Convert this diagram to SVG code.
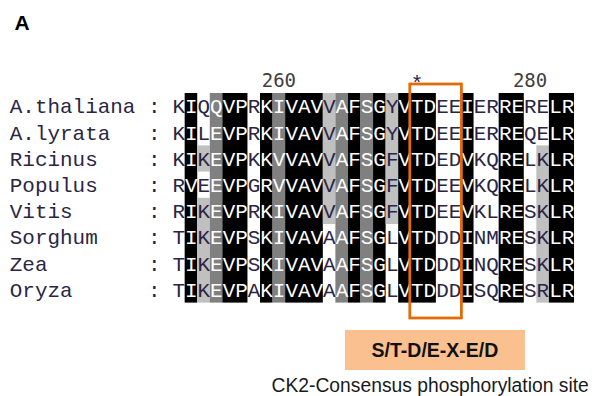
<svg xmlns="http://www.w3.org/2000/svg" width="595" height="396" viewBox="0 0 595 396">
<style>
.mono{font-family:"Liberation Mono","DejaVu Sans Mono",monospace;font-size:20.93px;fill:#2b2545}
.w{fill:#ffffff}
.bk{fill:#000000}
.dg{fill:#808080}
.lg{fill:#c0c0c0}
.num{font-family:"DejaVu Sans Mono","Liberation Mono",monospace;font-size:19px;fill:#404040;text-anchor:middle}
.sans{font-family:"Liberation Sans",Arial,sans-serif}
</style>
<rect width="595" height="396" fill="#ffffff"/>
<g id="panel-label"><text class="sans" x="14.5" y="30" font-size="21" font-weight="bold" fill="#000">A</text></g>
<g id="ruler">
<text class="num" x="278.9" y="87">260</text>
<text class="num" x="530.1" y="87">280</text>
<text class="mono" x="417" y="90" text-anchor="middle" fill="#333">*</text>
</g>
<g id="shading">
<rect class="bk" x="184.66" y="93" width="12.56" height="209.6"/>
<rect class="lg" x="197.22" y="145.4" width="12.56" height="26.2"/>
<rect class="lg" x="197.22" y="197.8" width="12.56" height="104.8"/>
<rect class="dg" x="209.78" y="93" width="12.56" height="209.6"/>
<rect class="bk" x="222.34" y="93" width="25.12" height="209.6"/>
<rect class="bk" x="260.02" y="93" width="12.56" height="209.6"/>
<rect class="dg" x="272.58" y="93" width="12.56" height="209.6"/>
<rect class="bk" x="285.14" y="93" width="37.68" height="209.6"/>
<rect class="lg" x="322.82" y="93" width="12.56" height="131"/>
<rect class="dg" x="335.38" y="93" width="12.56" height="209.6"/>
<rect class="bk" x="347.94" y="93" width="12.56" height="209.6"/>
<rect class="dg" x="360.5" y="93" width="12.56" height="209.6"/>
<rect class="bk" x="373.06" y="93" width="12.56" height="209.6"/>
<rect class="lg" x="385.62" y="93" width="12.56" height="131"/>
<rect class="bk" x="398.18" y="93" width="37.68" height="209.6"/>
<rect class="bk" x="460.98" y="93" width="12.56" height="209.6"/>
<rect class="bk" x="498.66" y="93" width="25.12" height="209.6"/>
<rect class="lg" x="536.34" y="145.4" width="12.56" height="157.2"/>
<rect class="bk" x="548.9" y="93" width="25.12" height="209.6"/>
</g>
<g id="names" class="mono">
<text class="mono" x="9.8" y="113.3">A.thaliana</text><text class="mono" x="148" y="113.3">:</text>
<text class="mono" x="9.8" y="139.5">A.lyrata</text><text class="mono" x="148" y="139.5">:</text>
<text class="mono" x="9.8" y="165.7">Ricinus</text><text class="mono" x="148" y="165.7">:</text>
<text class="mono" x="9.8" y="191.9">Populus</text><text class="mono" x="148" y="191.9">:</text>
<text class="mono" x="9.8" y="218.1">Vitis</text><text class="mono" x="148" y="218.1">:</text>
<text class="mono" x="9.8" y="244.3">Sorghum</text><text class="mono" x="148" y="244.3">:</text>
<text class="mono" x="9.8" y="270.5">Zea</text><text class="mono" x="148" y="270.5">:</text>
<text class="mono" x="9.8" y="296.7">Oryza</text><text class="mono" x="148" y="296.7">:</text>
</g>
<g id="residues">
<text class="mono" x="172.4" y="113.3">K<tspan class="w">I</tspan>Q<tspan class="w">QVP</tspan>R<tspan class="w">KIVAV</tspan>V<tspan class="w">AFSG</tspan>Y<tspan class="w">VTD</tspan>EE<tspan class="w">I</tspan>ER<tspan class="w">RE</tspan>RE<tspan class="w">LR</tspan></text>
<text class="mono" x="172.4" y="139.5">K<tspan class="w">I</tspan>L<tspan class="w">EVP</tspan>R<tspan class="w">KIVAV</tspan>V<tspan class="w">AFSG</tspan>Y<tspan class="w">VTD</tspan>EE<tspan class="w">I</tspan>ER<tspan class="w">RE</tspan>QE<tspan class="w">LR</tspan></text>
<text class="mono" x="172.4" y="165.7">K<tspan class="w">I</tspan>K<tspan class="w">EVP</tspan>K<tspan class="w">KVVAV</tspan>V<tspan class="w">AFSG</tspan>F<tspan class="w">VTD</tspan>ED<tspan class="w">V</tspan>KQ<tspan class="w">RE</tspan>LK<tspan class="w">LR</tspan></text>
<text class="mono" x="172.4" y="191.9">R<tspan class="w">V</tspan>E<tspan class="w">EVP</tspan>G<tspan class="w">RVVAV</tspan>V<tspan class="w">AFSG</tspan>F<tspan class="w">VTD</tspan>EE<tspan class="w">V</tspan>KQ<tspan class="w">RE</tspan>LK<tspan class="w">LR</tspan></text>
<text class="mono" x="172.4" y="218.1">R<tspan class="w">I</tspan>K<tspan class="w">EVP</tspan>R<tspan class="w">KIVAV</tspan>V<tspan class="w">AFSG</tspan>F<tspan class="w">VTD</tspan>EE<tspan class="w">V</tspan>KL<tspan class="w">RE</tspan>SK<tspan class="w">LR</tspan></text>
<text class="mono" x="172.4" y="244.3">T<tspan class="w">I</tspan>K<tspan class="w">EVP</tspan>S<tspan class="w">KIVAV</tspan>A<tspan class="w">AFSG</tspan>L<tspan class="w">VTD</tspan>DD<tspan class="w">I</tspan>NM<tspan class="w">RE</tspan>SK<tspan class="w">LR</tspan></text>
<text class="mono" x="172.4" y="270.5">T<tspan class="w">I</tspan>K<tspan class="w">EVP</tspan>S<tspan class="w">KIVAV</tspan>A<tspan class="w">AFSG</tspan>L<tspan class="w">VTD</tspan>DD<tspan class="w">I</tspan>NQ<tspan class="w">RE</tspan>SK<tspan class="w">LR</tspan></text>
<text class="mono" x="172.4" y="296.7">T<tspan class="w">I</tspan>K<tspan class="w">EVP</tspan>A<tspan class="w">KIVAV</tspan>A<tspan class="w">AFSG</tspan>L<tspan class="w">VTD</tspan>DD<tspan class="w">I</tspan>SQ<tspan class="w">RE</tspan>SR<tspan class="w">LR</tspan></text>
</g>
<g id="motif-box">
<rect x="409.8" y="84" width="51.6" height="234" fill="none" stroke="#e36c09" stroke-width="2.8"/>
</g>
<g id="consensus">
<rect x="345" y="330" width="180" height="40" fill="#fac090"/>
<text class="sans" x="435" y="357" font-size="19.5" font-weight="bold" text-anchor="middle" fill="#111">S/T-D/E-X-E/D</text>
<text class="sans" x="271.5" y="392" font-size="19.3" fill="#1a1a1a">CK2-Consensus phosphorylation site</text>
</g>
</svg>
